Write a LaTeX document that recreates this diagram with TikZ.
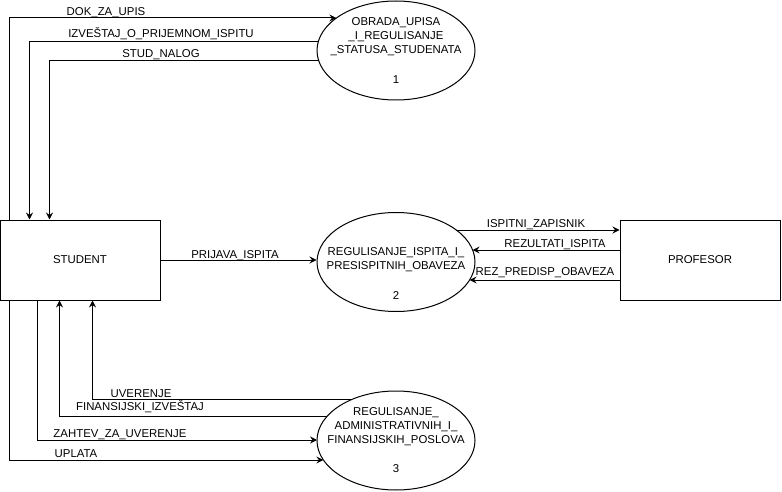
\documentclass[tikz,border=0pt]{standalone}
\usepackage{fontspec}
\setmainfont{Liberation Sans}
\usetikzlibrary{arrows.meta,shapes.geometric,calc}
\begin{document}
\begin{tikzpicture}[x=1pt,y=-1pt,
  font=\fontsize{11.4}{13.8}\selectfont,
  flow/.style={draw=black, line width=1pt, -{Stealth[length=7pt,width=7pt,inset=2.5pt]}},
  proc/.style={draw, ellipse, minimum width=158pt, minimum height=99pt, line width=1pt, inner sep=0pt},
  ent/.style={draw, rectangle, minimum width=160pt, minimum height=80pt, line width=1pt},
  lbl/.style={inner sep=0pt, anchor=base},
  ptxt/.style={align=center, inner sep=0pt, anchor=north}
]
\useasboundingbox (0,0) rectangle (782,492);

% entities
\node[ent] (st) at (80,260) {STUDENT};
\node[ent] (pr) at (700,260) {PROFESOR};

% processes
\node[proc] (e1) at (396,50.5) {};
\node[proc] (e2) at (396,262) {};
\node[proc] (e3) at (396,440.5) {};

\node[ptxt] (t1) at (396,17.6) {OBRADA\_UPISA\\\_I\_REGULISANJE\\\_STATUSA\_STUDENATA\\[15.9pt]1};
\node[ptxt] (t2) at (396,247.6) {REGULISANJE\_ISPITA\_I\_\\PRESISPITNIH\_OBAVEZA\\[15.7pt]2};
\node[ptxt] (t3) at (396,407.6) {REGULISANJE\_\\ADMINISTRATIVNIH\_I\_\\FINANSIJSKIH\_POSLOVA\\[15.2pt]3};

% top flows
\coordinate (a1) at ($(e1.center)+(-59.6,-32.5)$);
\draw[flow] ($(st.north west)+(10,0)$) |- (a1);
\coordinate (a2) at ($(e1.center)+(-77.7,-8.8)$);
\draw[flow] (a2) -| ($(st.north west)+(30,0)$);
\coordinate (a3) at ($(e1.center)+(-77.2,10.5)$);
\draw[flow] (a3) -| ($(st.north west)+(50,0)$);

% middle flows
\draw[flow] (st.east) -- (st.east -| e2.west);
\coordinate (b1) at ($(e2.center)+(60.3,-32)$);
\draw[flow] (b1) -- (b1 -| pr.west);
\coordinate (b2) at ($(e2.center)+(76.6,-12)$);
\draw[flow] (b2 -| pr.west) -- (b2);
\coordinate (b3) at ($(e2.center)+(73.6,18)$);
\draw[flow] (b3 -| pr.west) -- (b3);

% bottom flows
\coordinate (c1) at ($(e3.center)+(-72.6,19.5)$);
\draw[flow] ($(st.south west)+(10,0)$) |- (c1);
\coordinate (c2) at ($(e3.center)+(-79,-0.5)$);
\draw[flow] ($(st.south west)+(38,0)$) |- (c2);
\coordinate (c3) at ($(e3.center)+(-68.7,-24.5)$);
\draw[flow] (c3) -| ($(st.south west)+(60,0)$);
\coordinate (c4) at ($(e3.center)+(-43.8,-41.2)$);
\draw[flow] (c4) -| ($(st.south west)+(93,0)$);

% labels
\node[lbl] (l1) at (106,15.6) {DOK\_ZA\_UPIS};
\node[lbl] (l2) at (161,37.3) {IZVEŠTAJ\_O\_PRIJEMNOM\_ISPITU};
\node[lbl] (l3) at (161,57.3) {STUD\_NALOG};
\node[lbl] (l4) at (235,258) {PRIJAVA\_ISPITA};
\node[lbl] (l5) at (536,227.3) {ISPITNI\_ZAPISNIK};
\node[lbl] (l6) at (555,247.3) {REZULTATI\_ISPITA};
\node[lbl] (l7) at (545,275.7) {REZ\_PREDISP\_OBAVEZA};
\node[lbl] (l8) at (76,457.3) {UPLATA};
\node[lbl] (l9) at (120,437.3) {ZAHTEV\_ZA\_UVERENJE};
\node[lbl] (l10) at (140,410.7) {FINANSIJSKI\_IZVEŠTAJ};
\node[lbl] (l11) at (141,397.3) {UVERENJE};
\end{tikzpicture}
\end{document}
